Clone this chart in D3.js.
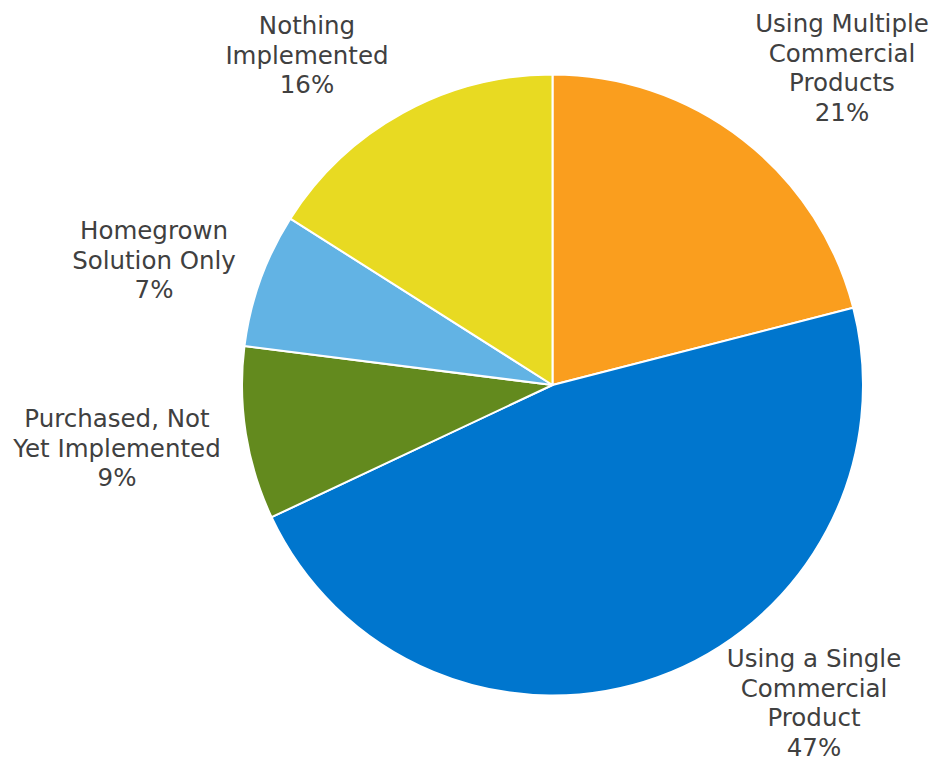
<!DOCTYPE html>
<html>
<head>
<meta charset="utf-8">
<script src="https://cdn.jsdelivr.net/npm/d3@7"></script>
<style>
  html, body { margin: 0; padding: 0; background: #ffffff; }
  svg { display: block; }
</style>
</head>
<body>
<svg id="chart" width="938" height="762"></svg>
<script>
// Segment names (one entry per line of each label), shares in percent, fills
const categories = [
  ["Using Multiple", "Commercial", "Products"],
  ["Using a Single", "Commercial", "Product"],
  ["Purchased, Not", "Yet Implemented"],
  ["Homegrown", "Solution Only"],
  ["Nothing", "Implemented"]
];
const values = [21, 47, 9, 7, 16];
const colors = ["#FA9E1E", "#0076CE", "#638A1E", "#62B3E4", "#E8DA22"];

// Label anchor (centre x, first baseline y) for each segment
const labelAnchors = [
  [842, 32],
  [814, 667],
  [117, 427],
  [154, 239],
  [307, 34]
];

const width = 938, height = 762;
const cx = 552.5, cy = 385, radius = 310.5;
const lineH = 29.6;

const svg = d3.select("#chart");
const g = svg.append("g").attr("transform", `translate(${cx},${cy})`);

const pie = d3.pie().sort(null).value(d => d.value);
const arc = d3.arc().innerRadius(0).outerRadius(radius);

const data = values.map((v, i) => ({ value: v, lines: categories[i], color: colors[i], anchor: labelAnchors[i] }));

g.selectAll("path")
  .data(pie(data))
  .join("path")
  .attr("d", arc)
  .attr("fill", d => d.data.color)
  .attr("stroke", "#ffffff")
  .attr("stroke-width", 2)
  .attr("stroke-linejoin", "round");

const labels = svg.append("g")
  .attr("font-family", "'DejaVu Sans', Verdana, sans-serif")
  .attr("font-size", 24.5)
  .attr("fill", "#404040")
  .attr("text-anchor", "middle");

data.forEach(d => {
  const t = labels.append("text")
    .attr("x", d.anchor[0])
    .attr("y", d.anchor[1]);
  const lines = d.lines.concat([d.value + "%"]);
  lines.forEach((line, j) => {
    t.append("tspan")
      .attr("x", d.anchor[0])
      .attr("dy", j === 0 ? 0 : lineH)
      .text(line);
  });
});
</script>
</body>
</html>
